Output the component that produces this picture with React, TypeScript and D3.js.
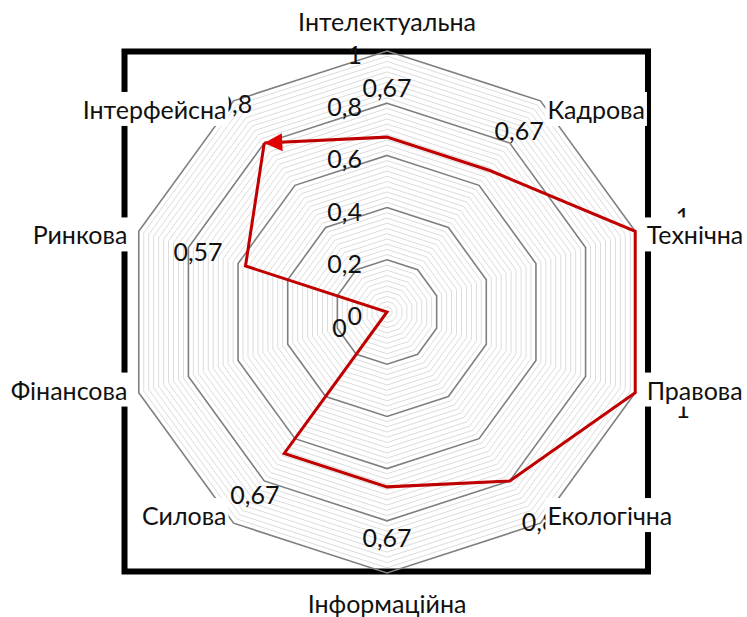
import React, { useEffect, useRef } from 'react';
import * as d3 from 'd3';

const categories = ['Інтелектуальна', 'Кадрова', 'Технічна', 'Правова', 'Екологічна', 'Інформаційна', 'Силова', 'Фінансова', 'Ринкова', 'Інтерфейсна'];
const values = [0.67, 0.67, 1, 1, 0.8, 0.67, 0.67, 0, 0.57, 0.8];
const ticks = [0, 0.2, 0.4, 0.6, 0.8, 1];

const W = 747;
const H = 617;
const cx = 387;
const cy = 312;
const R = 261;
const FONT = 'Lato, "Noto Sans", sans-serif';
const FS = 25;

const uaFormat = d3.formatLocale({ decimal: ',', thousands: ' ', grouping: [3], currency: ['', ''] }).format('~g');

export default function App() {
  const ref = useRef<SVGSVGElement>(null);

  useEffect(() => {
    if (!ref.current) return;
    const svg = d3.select(ref.current);
    svg.selectAll('*').remove();

    const r = d3.scaleLinear().domain([0, 1]).range([0, R]);
    const angle = d3.scaleLinear().domain([0, categories.length]).range([0, 2 * Math.PI]);
    const px = (i: number, v: number) => Math.sin(angle(i)) * r(v);
    const py = (i: number, v: number) => -Math.cos(angle(i)) * r(v);

    const defs = svg.append('defs');
    defs.append('marker')
      .attr('id', 'arrow')
      .attr('markerUnits', 'userSpaceOnUse')
      .attr('viewBox', '-19 -10 20 20')
      .attr('markerWidth', 20)
      .attr('markerHeight', 20)
      .attr('refX', 0)
      .attr('refY', 0)
      .attr('orient', 'auto')
      .append('path')
      .attr('d', 'M-18,-9 L0,0 L-18,9 Z')
      .attr('fill', '#e00000');

    svg.append('rect').attr('width', W).attr('height', H).attr('fill', '#fff');

    // frame
    svg.append('rect')
      .attr('x', 124.5).attr('y', 51.5)
      .attr('width', 523.5).attr('height', 520)
      .attr('fill', 'none').attr('stroke', '#000').attr('stroke-width', 6);

    const g = svg.append('g').attr('transform', `translate(${cx},${cy})`);

    const ring = d3.lineRadial<number>()
      .angle((_, i) => angle(i))
      .curve(d3.curveLinearClosed);

    // minor rings every 0.02
    const minor = d3.range(1, 50).map(k => k / 50).filter(v => Math.round(v * 50) % 10 !== 0);
    g.selectAll('path.minor')
      .data(minor)
      .join('path')
      .attr('class', 'minor')
      .attr('d', v => ring.radius(r(v))(categories.map(() => 0)))
      .attr('fill', 'none')
      .attr('stroke', '#dcdcdc')
      .attr('stroke-width', 1);

    g.selectAll('path.major')
      .data(ticks.filter(t => t > 0))
      .join('path')
      .attr('class', 'major')
      .attr('d', v => ring.radius(r(v))(categories.map(() => 0)))
      .attr('fill', 'none')
      .attr('stroke', '#7f7f7f')
      .attr('stroke-width', 1.6);

    // tick labels
    g.selectAll('text.tick')
      .data(ticks)
      .join('text')
      .attr('class', 'tick')
      .attr('x', -25)
      .attr('y', v => -r(v) + 3)
      .attr('text-anchor', 'end')
      .attr('dominant-baseline', 'central')
      .attr('font-family', FONT)
      .attr('font-size', FS)
      .attr('fill', '#111')
      .text(v => uaFormat(v));

    // series, drawn so it ends on Інтерфейсна with the arrow
    const order = [9, 8, 7, 6, 5, 4, 3, 2, 1, 0, 9];
    const line = d3.line<number>()
      .x(i => px(i, values[i]))
      .y(i => py(i, values[i]));
    g.append('path')
      .attr('d', line(order))
      .attr('fill', 'none')
      .attr('stroke', '#c00000')
      .attr('stroke-width', 3)
      .attr('stroke-linejoin', 'miter')
      .attr('marker-end', 'url(#arrow)');

    // data labels
    g.selectAll('text.val')
      .data(values)
      .join('text')
      .attr('class', 'val')
      .attr('x', (v, i) => px(i, v) + Math.sin(angle(i)) * 50)
      .attr('y', (v, i) => py(i, v) - Math.cos(angle(i)) * 50)
      .attr('text-anchor', 'middle')
      .attr('dominant-baseline', 'central')
      .attr('font-family', FONT)
      .attr('font-size', FS)
      .attr('fill', '#111')
      .text(v => uaFormat(v));

    // category labels with white boxes
    const cat = g.selectAll('g.cat')
      .data(categories)
      .join('g')
      .attr('class', 'cat');
    cat.each(function (name, i) {
      const s = Math.sin(angle(i));
      const c = Math.cos(angle(i));
      const vx = s * R;
      const vy = -c * R;
      const side = Math.abs(s) < 0.01;
      const x = side ? vx : vx + 12 * s;
      const y = side ? vy - 30 * c : vy + 10 * c;
      const anchor = side ? 'middle' : s > 0 ? 'start' : 'end';
      const sel = d3.select(this);
      const bg = sel.append('rect').attr('fill', '#fff');
      const t = sel.append('text')
        .attr('x', x)
        .attr('y', y)
        .attr('text-anchor', anchor)
        .attr('dominant-baseline', 'central')
        .attr('font-family', FONT)
        .attr('font-size', FS)
        .attr('fill', '#111')
        .text(name);
      const b = (t.node() as SVGTextElement).getBBox();
      bg.attr('x', b.x - 2).attr('y', b.y - 2).attr('width', b.width + 4).attr('height', b.height + 4);
    });
  }, []);

  return (
    <svg
      ref={ref}
      width={W}
      height={H}
      style={{ position: 'absolute', left: 0, top: 0, display: 'block' }}
    />
  );
}
